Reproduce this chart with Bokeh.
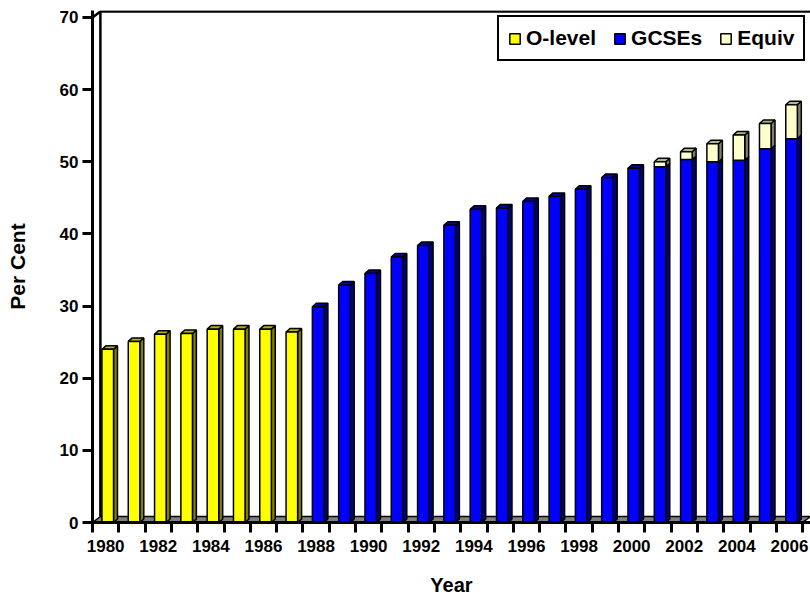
from bokeh.plotting import figure
from bokeh.models import Range1d, FixedTicker, Legend, LegendItem, ColumnDataSource
from bokeh.embed import file_html
from bokeh.resources import INLINE

# ---- data ----
years = ["1980", "1981", "1982", "1983", "1984", "1985", "1986", "1987", "1988",
         "1989", "1990", "1991", "1992", "1993", "1994", "1995", "1996", "1997",
         "1998", "1999", "2000", "2001", "2002", "2003", "2004", "2005", "2006"]
olevel_years = ["1980", "1981", "1982", "1983", "1984", "1985", "1986", "1987"]
olevel = [24.0, 25.1, 26.1, 26.2, 26.8, 26.8, 26.8, 26.4]
gcse_years = ["1988", "1989", "1990", "1991", "1992", "1993", "1994", "1995", "1996",
              "1997", "1998", "1999", "2000", "2001", "2002", "2003", "2004", "2005", "2006"]
gcse = [29.9, 32.9, 34.5, 36.8, 38.4, 41.2, 43.4, 43.6, 44.5,
        45.2, 46.2, 47.8, 49.1, 49.3, 50.3, 50.0, 50.2, 51.8, 53.2]
equiv_years = ["2001", "2002", "2003", "2004", "2005", "2006"]
equiv = [0.7, 1.1, 2.5, 3.5, 3.5, 4.7]
y_ticks = [0, 10, 20, 30, 40, 50, 60, 70]
label_years = ["1980", "1982", "1984", "1986", "1988", "1990", "1992", "1994", "1996",
               "1998", "2000", "2002", "2004", "2006"]

FONT = "Liberation Sans"
NCAT = len(years)
XMAX = NCAT + 0.3
YMAX = 70.97
DX = 0.15   # bar depth (category units)
DY = 0.49   # bar depth (value units)
WX = 0.30   # wall depth
WY = 0.83

p = figure(width=810, height=599, output_backend="svg", toolbar_location=None,
           x_range=Range1d(0, XMAX), y_range=Range1d(0, YMAX),
           min_border_left=92, min_border_right=0, min_border_top=10, min_border_bottom=77)
p.outline_line_color = None
p.xgrid.visible = False
p.ygrid.visible = False

# walls / floor
p.patch([0, NCAT, NCAT + WX, WX], [0, 0, WY, WY], fill_color="#808080",
        line_color="black", line_width=1.5)
p.line([WX, WX, XMAX], [WY, 70 + WY, 70 + WY], line_color="black", line_width=2.5)
p.line([0, WX], [70, 70 + WY], line_color="black", line_width=2.5)


def bar3d(yrs, bottoms, tops, face, side, topc, with_top):
    idx = [years.index(y) for y in yrs]
    L = [i + 0.36 for i in idx]
    R = [i + 0.80 for i in idx]
    sxs = [[r, r + DX, r + DX, r] for r in R]
    sys_ = [[b, b + DY, t + DY, t] for b, t in zip(bottoms, tops)]
    p.patches(sxs, sys_, fill_color=side, line_color="black", line_width=1.5)
    txs, tys = [], []
    for l, r, t, w in zip(L, R, tops, with_top):
        if w:
            txs.append([l, l + DX, r + DX, r])
            tys.append([t, t + DY, t + DY, t])
    if txs:
        p.patches(txs, tys, fill_color=topc, line_color="black", line_width=1.5)
    src = ColumnDataSource(dict(left=L, right=R, bottom=bottoms, top=tops))
    return p.quad(left="left", right="right", bottom="bottom", top="top", source=src,
                  fill_color=face, line_color="black", line_width=1.5)


r_o = bar3d(olevel_years, [0] * len(olevel), olevel, "#FFFF00", "#7F7F00", "#B2B200",
            [True] * len(olevel))
r_g = bar3d(gcse_years, [0] * len(gcse), gcse, "#0000FF", "#000080", "#0000B0",
            [y not in equiv_years for y in gcse_years])
eq_bottom = [gcse[gcse_years.index(y)] for y in equiv_years]
eq_top = [b + v for b, v in zip(eq_bottom, equiv)]
r_e = bar3d(equiv_years, eq_bottom, eq_top, "#FFFFCC", "#80806A", "#B3B38F",
            [True] * len(equiv))

# axes
ya = p.yaxis[0]
ya.ticker = FixedTicker(ticks=y_ticks)
ya.axis_line_width = 3
ya.axis_line_color = "black"
ya.major_tick_line_width = 3
ya.major_tick_line_color = "black"
ya.major_tick_out = 10
ya.major_tick_in = 0
ya.minor_tick_line_color = None
ya.major_label_standoff = 4
ya.major_label_text_font = FONT
ya.major_label_text_font_style = "bold"
ya.major_label_text_font_size = "17px"
ya.major_label_text_color = "black"
ya.axis_label = "Per Cent"
ya.axis_label_text_font = FONT
ya.axis_label_text_font_style = "bold"
ya.axis_label_text_font_size = "21px"
ya.axis_label_text_color = "black"
ya.axis_label_standoff = 28

xa = p.xaxis[0]
centers = [years.index(y) + 0.5 for y in label_years]
xa.ticker = FixedTicker(ticks=centers, minor_ticks=list(range(NCAT + 1)))
xa.major_label_overrides = {c: y for c, y in zip(centers, label_years)}
xa.axis_line_width = 3
xa.axis_line_color = "black"
xa.major_tick_line_color = None
xa.major_tick_out = 10
xa.major_tick_in = 0
xa.minor_tick_line_color = "black"
xa.minor_tick_line_width = 3
xa.minor_tick_out = 10
xa.minor_tick_in = 0
xa.major_label_standoff = 7
xa.major_label_text_font = FONT
xa.major_label_text_font_style = "bold"
xa.major_label_text_font_size = "17px"
xa.major_label_text_color = "black"
xa.axis_label = "Year"
xa.axis_label_text_font = FONT
xa.axis_label_text_font_style = "bold"
xa.axis_label_text_font_size = "20px"
xa.axis_label_text_color = "black"
xa.axis_label_standoff = 19

legend = Legend(items=[LegendItem(label="O-level", renderers=[r_o]),
                       LegendItem(label="GCSEs", renderers=[r_g]),
                       LegendItem(label="Equiv", renderers=[r_e])],
                orientation="horizontal", location=(405, 461),
                glyph_width=13, glyph_height=13, label_standoff=5, spacing=17,
                padding=9, margin=0, label_text_font=FONT,
                label_text_font_style="bold", label_text_font_size="21px",
                label_text_color="black",
                border_line_color="black", border_line_width=2, border_line_alpha=1.0,
                background_fill_color="white", background_fill_alpha=1.0)
p.add_layout(legend)

open("out.html", "w").write(file_html(p, INLINE))
